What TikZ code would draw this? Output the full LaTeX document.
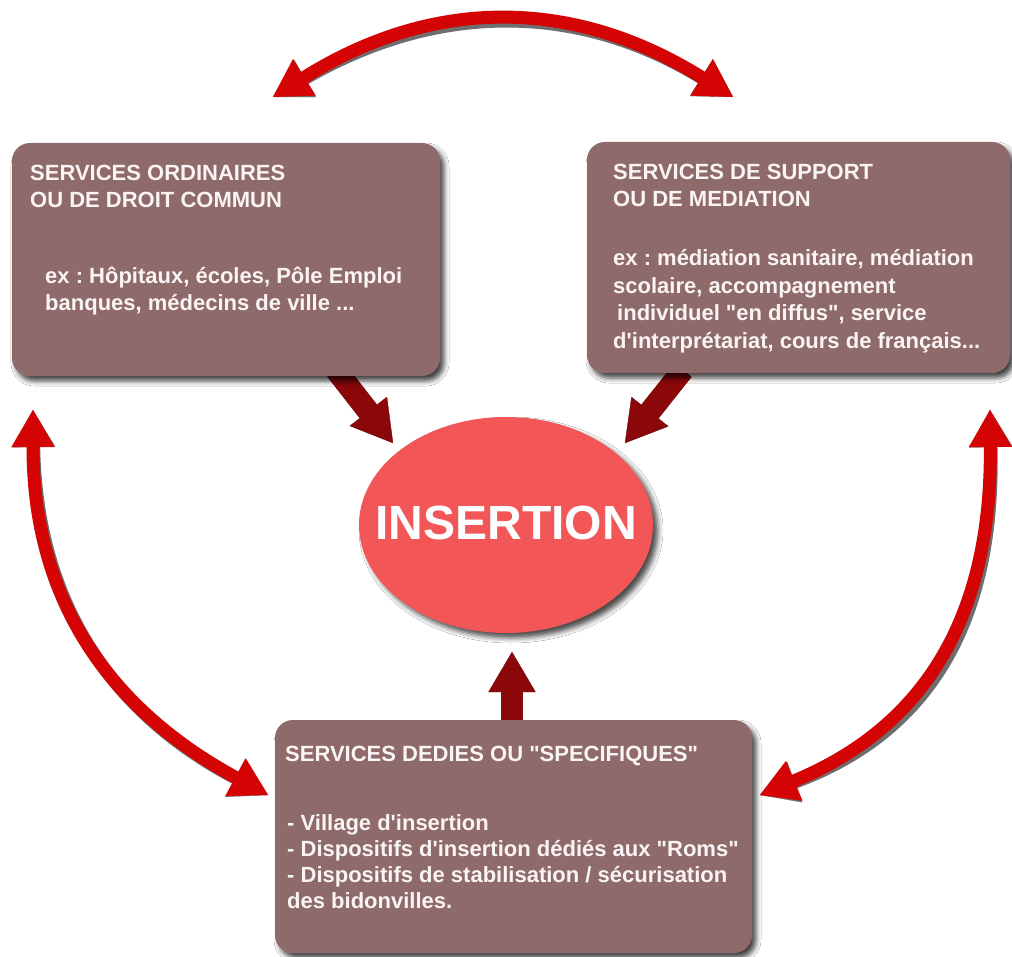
\documentclass[tikz,border=0pt]{standalone}
\usepackage{fontspec}
\newfontfamily\lsans{Liberation Sans}
\usetikzlibrary{arrows.meta,shapes.geometric,shadows,shadows.blur}
\definecolor{boxc}{RGB}{143,106,106}
\definecolor{txtc}{RGB}{250,244,244}
\definecolor{ellc}{RGB}{242,86,86}
\definecolor{redc}{RGB}{212,4,4}
\definecolor{darkc}{RGB}{138,8,10}
\definecolor{shadc}{RGB}{110,110,110}
\newcommand{\tlines}[1]{\begin{tabular}[t]{@{}l@{}}#1\end{tabular}}
\frenchspacing
\tikzset{
  mybox/.style={rectangle, fill=boxc, rounded corners=18pt, inner sep=0pt,
    blur shadow={shadow xshift=4pt, shadow yshift=-5pt, shadow blur radius=5pt, shadow opacity=75}},
  txt/.style={anchor=base west, inner sep=0pt, text=txtc,
    font=\lsans\bfseries\fontsize{22pt}{#1}\selectfont},
  fat/.style={draw=darkc, line width=22pt, -{Triangle[width=47pt,length=40pt,line width=0.1pt]}},
  fatsh/.style={draw=shadc, line width=22pt, -{Triangle[width=47pt,length=40pt,line width=0.1pt]}, xshift=4pt, yshift=-5pt},
  curv/.style={draw=redc, line width=13pt, {Triangle[width=43pt,length=37pt,line width=0.1pt]}-{Triangle[width=43pt,length=37pt,line width=0.1pt]}},
  curvsh/.style={draw=shadc, line width=13pt, {Triangle[width=43pt,length=37pt,line width=0.1pt]}-{Triangle[width=43pt,length=37pt,line width=0.1pt]}, xshift=4pt, yshift=-5pt},
}
\begin{document}
\frenchspacing
\begin{tikzpicture}[x=1pt,y=-1pt]
\useasboundingbox (0,0) rectangle (1012,957);
\fill[white] (0,0) rectangle (1012,957);

% free ends of connectors
\coordinate (la0) at (336,370);
\coordinate (la1) at (393,443);
\coordinate (ra0) at (683,370);
\coordinate (ra1) at (625,443);
\coordinate (ba0) at (512,725);
\coordinate (ba1) at (512,652);
\coordinate (tl) at (273,97);
\coordinate (tr) at (733,97);
\coordinate (ltop) at (33,410);
\coordinate (lbot) at (268,795);
\coordinate (rtop) at (990,410);
\coordinate (rbot) at (760,795);

% fat arrows to INSERTION
\draw[fatsh] (la0) -- (la1);
\draw[fatsh] (ra0) -- (ra1);
\draw[fatsh] (ba0) -- (ba1);
\draw[fat] (la0) -- (la1);
\draw[fat] (ra0) -- (ra1);
\draw[fat] (ba0) -- (ba1);

% boxes
\node[mybox, minimum width=428pt, minimum height=233pt] (lbox) at (226,259.5) {};
\node[mybox, minimum width=423pt, minimum height=231pt] (rbox) at (798.5,257.5) {};
\node[mybox, minimum width=477pt, minimum height=233pt] (bbox) at (513.5,836.5) {};

\node[ellipse, fill=ellc, minimum width=294pt, minimum height=216pt, inner sep=0pt,
  blur shadow={shadow xshift=5pt, shadow yshift=-5pt, shadow blur radius=5pt, shadow opacity=70},
  text=white, font=\lsans\bfseries\fontsize{48pt}{48pt}\selectfont] (ins) at (506,525) {\makebox[0pt]{\raisebox{4pt}{INSERTION}}};

% texts
\node[txt=27pt] (lt) at (30,181) {\tlines{SERVICES ORDINAIRES\\OU DE DROIT COMMUN}};
\node[txt=27pt] (lb) at (45,284) {\tlines{ex : Hôpitaux, écoles, Pôle Emploi\\banques, médecins de ville ...}};
\node[txt=27pt] (rt) at (613,180) {\tlines{SERVICES DE SUPPORT\\OU DE MEDIATION}};
\node[txt=27.5pt] (rb) at (613,266) {\tlines{ex : médiation sanitaire, médiation\\scolaire, accompagnement\\\hspace{4pt}individuel "en diffus", service\\d'interprétariat, cours de français...}};
\node[txt=26pt] (bt) at (285,761) {SERVICES DEDIES OU "SPECIFIQUES"};
\node[txt=26pt] (bb) at (287,830) {\tlines{- Village d'insertion\\- Dispositifs d'insertion dédiés aux "Roms"\\- Dispositifs de stabilisation / sécurisation\\des bidonvilles.}};

% curved double arrows
\draw[curvsh] (tl) .. controls (433,-3) and (573,-3) .. (tr);
\draw[curvsh] (ltop) .. controls (33,620) and (130,720) .. (lbot);
\draw[curvsh] (rtop) .. controls (992,640) and (905,735) .. (rbot);
\draw[curv] (tl) .. controls (433,-3) and (573,-3) .. (tr);
\draw[curv] (ltop) .. controls (33,620) and (130,720) .. (lbot);
\draw[curv] (rtop) .. controls (992,640) and (905,735) .. (rbot);
\end{tikzpicture}
\end{document}
